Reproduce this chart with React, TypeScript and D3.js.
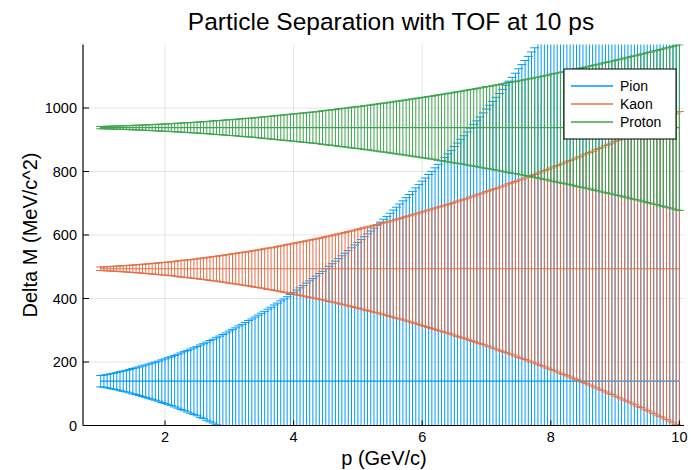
import React from 'react';
import * as d3 from 'd3';

const momentum = [
  1, 1.05, 1.1, 1.15, 1.2, 1.25, 1.3, 1.35, 1.4, 1.45,
  1.5, 1.55, 1.6, 1.65, 1.7, 1.75, 1.8, 1.85, 1.9, 1.95,
  2, 2.05, 2.1, 2.15, 2.2, 2.25, 2.3, 2.35, 2.4, 2.45,
  2.5, 2.55, 2.6, 2.65, 2.7, 2.75, 2.8, 2.85, 2.9, 2.95,
  3, 3.05, 3.1, 3.15, 3.2, 3.25, 3.3, 3.35, 3.4, 3.45,
  3.5, 3.55, 3.6, 3.65, 3.7, 3.75, 3.8, 3.85, 3.9, 3.95,
  4, 4.05, 4.1, 4.15, 4.2, 4.25, 4.3, 4.35, 4.4, 4.45,
  4.5, 4.55, 4.6, 4.65, 4.7, 4.75, 4.8, 4.85, 4.9, 4.95,
  5, 5.05, 5.1, 5.15, 5.2, 5.25, 5.3, 5.35, 5.4, 5.45,
  5.5, 5.55, 5.6, 5.65, 5.7, 5.75, 5.8, 5.85, 5.9, 5.95,
  6, 6.05, 6.1, 6.15, 6.2, 6.25, 6.3, 6.35, 6.4, 6.45,
  6.5, 6.55, 6.6, 6.65, 6.7, 6.75, 6.8, 6.85, 6.9, 6.95,
  7, 7.05, 7.1, 7.15, 7.2, 7.25, 7.3, 7.35, 7.4, 7.45,
  7.5, 7.55, 7.6, 7.65, 7.7, 7.75, 7.8, 7.85, 7.9, 7.95,
  8, 8.05, 8.1, 8.15, 8.2, 8.25, 8.3, 8.35, 8.4, 8.45,
  8.5, 8.55, 8.6, 8.65, 8.7, 8.75, 8.8, 8.85, 8.9, 8.95,
  9, 9.05, 9.1, 9.15, 9.2, 9.25, 9.3, 9.35, 9.4, 9.45,
  9.5, 9.55, 9.6, 9.65, 9.7, 9.75, 9.8, 9.85, 9.9, 9.95, 10,
];

const pionErr = [
  18, 19, 21, 23, 25, 27, 30, 32, 34, 37,
  40, 42, 45, 48, 51, 54, 57, 60, 63, 67,
  70, 74, 77, 81, 85, 89, 93, 97, 101, 105,
  109, 114, 118, 123, 128, 132, 137, 142, 147, 152,
  158, 163, 168, 174, 179, 185, 191, 196, 202, 208,
  214, 220, 227, 233, 240, 246, 253, 259, 266, 273,
  280, 287, 294, 301, 309, 316, 323, 331, 339, 346,
  354, 362, 370, 378, 386, 395, 403, 411, 420, 429,
  437, 446, 455, 464, 473, 482, 491, 501, 510, 519,
  529, 539, 548, 558, 568, 578, 588, 598, 609, 619,
  630, 640, 651, 661, 672, 683, 694, 705, 716, 727,
  739, 750, 762, 773, 785, 797, 809, 820, 832, 845,
  857, 869, 881, 894, 906, 919, 932, 945, 957, 970,
  984, 997, 1010, 1023, 1037, 1050, 1064, 1077, 1091, 1105,
  1119, 1133, 1147, 1161, 1176, 1190, 1205, 1219, 1234, 1248,
  1263, 1278, 1293, 1308, 1323, 1339, 1354, 1369, 1385, 1401,
  1416, 1432, 1448, 1464, 1480, 1496, 1512, 1528, 1545, 1561,
  1578, 1595, 1611, 1628, 1645, 1662, 1679, 1696, 1714, 1731, 1748,
];

const kaonErr = [
  5.5, 6.0, 6.6, 7.1, 7.7, 8.3, 8.9, 9.6, 10.3, 11.0,
  11.7, 12.5, 13.2, 14.0, 14.9, 15.7, 16.6, 17.5, 18.4, 19.4,
  20, 21, 22, 23, 25, 26, 27, 28, 29, 30,
  31, 33, 34, 35, 37, 38, 39, 41, 42, 44,
  45, 47, 48, 50, 51, 53, 54, 56, 58, 59,
  61, 63, 65, 66, 68, 70, 72, 74, 76, 78,
  80, 82, 84, 86, 88, 90, 92, 94, 96, 98,
  101, 103, 105, 107, 110, 112, 114, 117, 119, 122,
  124, 127, 129, 132, 134, 137, 139, 142, 145, 147,
  150, 153, 156, 158, 161, 164, 167, 170, 173, 176,
  179, 182, 185, 188, 191, 194, 197, 200, 203, 206,
  209, 213, 216, 219, 222, 226, 229, 233, 236, 239,
  243, 246, 250, 253, 257, 260, 264, 268, 271, 275,
  279, 282, 286, 290, 294, 297, 301, 305, 309, 313,
  317, 321, 325, 329, 333, 337, 341, 345, 349, 353,
  358, 362, 366, 370, 375, 379, 383, 388, 392, 396,
  401, 405, 410, 414, 419, 423, 428, 433, 437, 442,
  447, 451, 456, 461, 466, 470, 475, 480, 485, 490, 495,
];

const protonErr = [
  3.6, 3.8, 4.1, 4.4, 4.8, 5.1, 5.4, 5.8, 6.1, 6.5,
  6.9, 7.3, 7.7, 8.1, 8.6, 9.0, 9.5, 10.0, 10.5, 11.0,
  11.5, 12.0, 12.6, 13.1, 13.7, 14.3, 14.9, 15.5, 16.1, 16.7,
  17, 18, 19, 19, 20, 21, 22, 22, 23, 24,
  25, 25, 26, 27, 28, 29, 29, 30, 31, 32,
  33, 34, 35, 36, 37, 38, 39, 40, 41, 42,
  43, 44, 45, 46, 47, 48, 49, 50, 51, 53,
  54, 55, 56, 57, 59, 60, 61, 62, 64, 65,
  66, 67, 69, 70, 71, 73, 74, 76, 77, 78,
  80, 81, 83, 84, 86, 87, 89, 90, 92, 93,
  95, 96, 98, 99, 101, 103, 104, 106, 108, 109,
  111, 113, 114, 116, 118, 120, 121, 123, 125, 127,
  129, 130, 132, 134, 136, 138, 140, 142, 144, 145,
  147, 149, 151, 153, 155, 157, 159, 161, 163, 165,
  168, 170, 172, 174, 176, 178, 180, 182, 185, 187,
  189, 191, 193, 196, 198, 200, 203, 205, 207, 209,
  212, 214, 216, 219, 221, 224, 226, 228, 231, 233,
  236, 238, 241, 243, 246, 248, 251, 253, 256, 259, 261,
];

const particles = ['Pion', 'Kaon', 'Proton'];
const masses = [139.57, 493.68, 938.27];
const errors = [pionErr, kaonErr, protonErr];
const colors = ['#009AFA', '#E36F47', '#3EA44E'];
const xTicks = [2, 4, 6, 8, 10];
const yTicks = [0, 200, 400, 600, 800, 1000];

const FONT = '"Liberation Sans", Arial, Helvetica, sans-serif';

export default function App() {
  const W = 691;
  const H = 470;
  const left = 83;
  const right = 684;
  const top = 44.5;
  const bottom = 425.5;

  const x = d3.scaleLinear().domain([0.7247, 10.0715]).range([left, right]);
  const y = d3.scaleLinear().domain([0, 1200]).range([bottom, top]);

  const capHalf = 4.5;

  const errPath = (errs: number[], m: number) => {
    const p = d3.path();
    momentum.forEach((pm, i) => {
      const cx = x(pm);
      const y0 = y(m - errs[i]);
      const y1 = y(m + errs[i]);
      p.moveTo(cx, y0);
      p.lineTo(cx, y1);
      p.moveTo(cx - capHalf, y0);
      p.lineTo(cx + capHalf, y0);
      p.moveTo(cx - capHalf, y1);
      p.lineTo(cx + capHalf, y1);
    });
    return p.toString();
  };

  const linePath = (m: number) =>
    d3
      .line<number>()
      .x((pm) => x(pm))
      .y(() => y(m))(momentum) || '';

  const legendX = 564;
  const legendY = 69;
  const legendW = 112;
  const legendH = 70;

  return (
    <svg
      width={W}
      height={H}
      viewBox={`0 0 ${W} ${H}`}
      style={{ position: 'absolute', left: 0, top: 0, background: '#fff' }}
      fontFamily={FONT}
    >
      <defs>
        <clipPath id="plotClip">
          <rect x={left} y={top} width={right - left} height={bottom - top} />
        </clipPath>
      </defs>
      <rect x={0} y={0} width={W} height={H} fill="#fff" />

      {/* grid */}
      <g stroke="#000" strokeOpacity={0.1} strokeWidth={1}>
        {xTicks.map((t) => (
          <line key={'gx' + t} x1={x(t)} x2={x(t)} y1={top} y2={bottom} />
        ))}
        {yTicks.map((t) => (
          <line key={'gy' + t} x1={left} x2={right} y1={y(t)} y2={y(t)} />
        ))}
      </g>

      {/* series */}
      <g clipPath="url(#plotClip)" fill="none">
        {particles.map((name, k) => (
          <g key={name}>
            <path d={errPath(errors[k], masses[k])} stroke={colors[k]} strokeWidth={1} />
            <path d={linePath(masses[k])} stroke={colors[k]} strokeWidth={1.2} />
          </g>
        ))}
      </g>

      {/* axes */}
      <g stroke="#000" strokeWidth={1.2}>
        <line x1={left} x2={left} y1={top} y2={bottom} />
        <line x1={left} x2={right} y1={bottom} y2={bottom} />
      </g>
      <g stroke="#000" strokeWidth={1}>
        {xTicks.map((t) => (
          <line key={'tx' + t} x1={x(t)} x2={x(t)} y1={bottom} y2={bottom - 5} />
        ))}
        {yTicks.map((t) => (
          <line key={'ty' + t} x1={left} x2={left + 6} y1={y(t)} y2={y(t)} />
        ))}
      </g>
      <g fontSize={14.5} fill="#000">
        {xTicks.map((t) => (
          <text key={'lx' + t} x={x(t)} y={442} textAnchor="middle">
            {t}
          </text>
        ))}
        {yTicks.map((t) => (
          <text key={'ly' + t} x={77} y={y(t)} dy="0.35em" textAnchor="end">
            {t}
          </text>
        ))}
      </g>

      {/* title and labels */}
      <text x={391} y={30} fontSize={24.5} textAnchor="middle" fill="#000">
        Particle Separation with TOF at 10 ps
      </text>
      <text x={384} y={465} fontSize={20} textAnchor="middle" fill="#000">
        p (GeV/c)
      </text>
      <text
        transform={`translate(37, ${(top + bottom) / 2}) rotate(-90)`}
        fontSize={20}
        textAnchor="middle"
        fill="#000"
      >
        Delta M (MeV/c^2)
      </text>

      {/* legend */}
      <g>
        <rect
          x={legendX}
          y={legendY}
          width={legendW}
          height={legendH}
          fill="#fff"
          stroke="#000"
          strokeWidth={1}
        />
        {particles.map((name, k) => {
          const ly = legendY + 17 + k * 18;
          return (
            <g key={'leg' + name}>
              <line x1={571} x2={613} y1={ly} y2={ly} stroke={colors[k]} strokeWidth={1.5} />
              <text x={620} y={ly} dy="0.35em" fontSize={14} fill="#000">
                {name}
              </text>
            </g>
          );
        })}
      </g>
    </svg>
  );
}
